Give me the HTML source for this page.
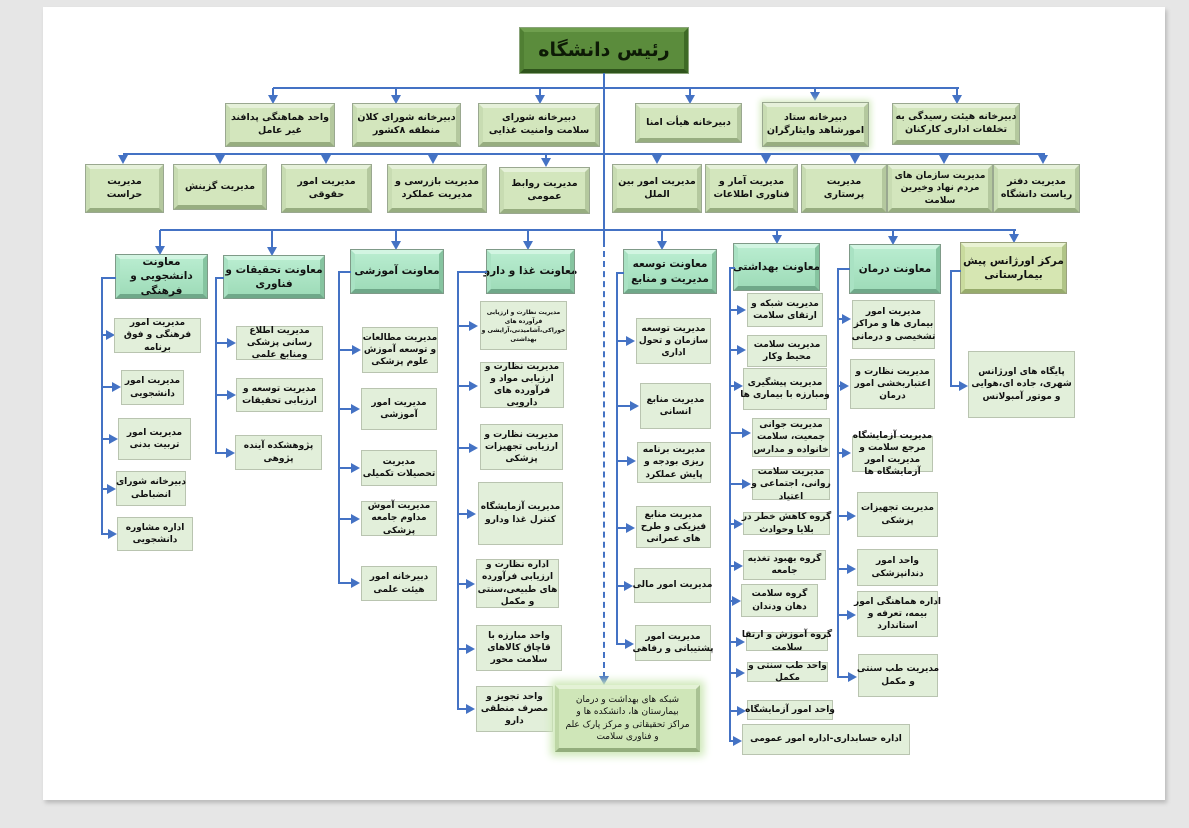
<!DOCTYPE html>
<html><head><meta charset="utf-8">
<style>
*{margin:0;padding:0;box-sizing:border-box}
body{width:1189px;height:828px;background:#e6e6e6;position:relative;overflow:hidden}
.pg{position:absolute;left:43px;top:7px;width:1122px;height:793px;background:#fff;box-shadow:2px 3px 4px #bbb}
.b{position:absolute;display:flex;align-items:center;justify-content:center;text-align:center;direction:rtl;font:bold 9px "DejaVu Sans",sans-serif;line-height:1.35;color:#111;overflow:visible;white-space:nowrap;letter-spacing:-0.3px}
.g{background:#d3e6bd;border:4px solid;border-color:#e6f1da #b4c89e #97ad80 #c8dcb2;outline:1px solid #9aa890;font-size:9.5px}
.t{background:linear-gradient(#b8eccf,#9fdcb9);border:4px solid;border-color:#d2f5e2 #86c4a0 #6fa889 #a9e2c3;outline:1px solid #7f9a88;font-size:10.5px}
.o{background:#d6e6b2;border:4px solid;border-color:#eaf3d4 #b0c487 #97ab6c #c9db9e;outline:1px solid #9aa27d;font-size:10.5px}
.l{background:#e2efda;border:1px solid #b9c4b0}
.h{position:absolute;height:2px;background:#4472c4}
.v{position:absolute;width:2px;background:#4472c4}
.ad{position:absolute;width:0;height:0;border-left:5px solid transparent;border-right:5px solid transparent;border-top:9px solid #4472c4}
.ar{position:absolute;width:0;height:0;border-top:5px solid transparent;border-bottom:5px solid transparent;border-left:9px solid #4472c4}
</style></head><body>
<div class="pg"></div>

<div class="b" style="left:520px;top:28px;width:168px;height:45px;background:#5b8c3c;border:4px solid;border-color:#6f9f4e #3e6a26 #2f541c #507f33;outline:1px solid #8aa47a;font-size:19px;color:#0d1a06">رئیس دانشگاه</div>

<div class="v" style="left:603px;top:73px;height:168px"></div>
<div style="position:absolute;left:603px;top:241px;height:437px;border-left:2px dashed #4472c4"></div>
<div class="ad" style="left:599px;top:676px"></div>

<div class="h" style="left:273px;top:87px;width:686px"></div>
<div class="v" style="left:272px;top:88px;height:8px"></div><div class="ad" style="left:268px;top:95px"></div>
<div class="v" style="left:395px;top:88px;height:8px"></div><div class="ad" style="left:391px;top:95px"></div>
<div class="v" style="left:539px;top:88px;height:8px"></div><div class="ad" style="left:535px;top:95px"></div>
<div class="v" style="left:689px;top:88px;height:8px"></div><div class="ad" style="left:685px;top:95px"></div>
<div class="v" style="left:814px;top:88px;height:5px"></div><div class="ad" style="left:810px;top:92px"></div>
<div class="v" style="left:956px;top:88px;height:8px"></div><div class="ad" style="left:952px;top:95px"></div>

<div class="b g" style="left:226px;top:104px;width:108px;height:42px">واحد هماهنگی پدافند<br>غیر عامل</div>
<div class="b g" style="left:353px;top:104px;width:107px;height:42px">دبیرخانه شورای کلان<br>منطقه ۸کشور</div>
<div class="b g" style="left:479px;top:104px;width:120px;height:42px">دبیرخانه شورای<br>سلامت وامنیت غذایی</div>
<div class="b g" style="left:636px;top:104px;width:105px;height:38px">دبیرخانه هیأت امنا</div>
<div class="b g" style="left:763px;top:103px;width:105px;height:43px;box-shadow:0 0 6px 3px #d7ecc4">دبیرخانه ستاد<br>امورشاهد وایثارگران</div>
<div class="b g" style="left:893px;top:104px;width:126px;height:40px">دبیرخانه هیئت رسیدگی به<br>تخلفات اداری کارکنان</div>

<div class="h" style="left:123px;top:153px;width:922px"></div>
<div class="ad" style="left:118px;top:155px"></div>
<div class="ad" style="left:215px;top:155px"></div>
<div class="ad" style="left:321px;top:155px"></div>
<div class="ad" style="left:428px;top:155px"></div>
<div class="v" style="left:545px;top:155px;height:4px"></div><div class="ad" style="left:541px;top:158px"></div>
<div class="ad" style="left:652px;top:155px"></div>
<div class="ad" style="left:761px;top:155px"></div>
<div class="ad" style="left:850px;top:155px"></div>
<div class="ad" style="left:939px;top:155px"></div>
<div class="ad" style="left:1038px;top:155px"></div>

<div class="b g" style="left:86px;top:165px;width:77px;height:47px">مدیریت<br>حراست</div>
<div class="b g" style="left:174px;top:165px;width:92px;height:44px">مدیریت گزینش</div>
<div class="b g" style="left:282px;top:165px;width:89px;height:47px">مدیریت امور<br>حقوقی</div>
<div class="b g" style="left:388px;top:165px;width:98px;height:47px">مدیریت بازرسی و<br>مدیریت عملکرد</div>
<div class="b g" style="left:500px;top:168px;width:89px;height:45px">مدیریت روابط<br>عمومی</div>
<div class="b g" style="left:613px;top:165px;width:88px;height:47px">مدیریت امور بین<br>الملل</div>
<div class="b g" style="left:706px;top:165px;width:91px;height:47px">مدیریت آمار و<br>فناوری اطلاعات</div>
<div class="b g" style="left:802px;top:165px;width:84px;height:47px">مدیریت<br>پرستاری</div>
<div class="b g" style="left:888px;top:165px;width:104px;height:47px;font-size:9px">مدیریت سازمان های<br>مردم نهاد وخیرین<br>سلامت</div>
<div class="b g" style="left:994px;top:165px;width:85px;height:47px">مدیریت دفتر<br>ریاست دانشگاه</div>

<div class="h" style="left:160px;top:229px;width:856px"></div>
<div class="v" style="left:159px;top:230px;height:17px"></div><div class="ad" style="left:155px;top:246px"></div>
<div class="v" style="left:271px;top:230px;height:18px"></div><div class="ad" style="left:267px;top:247px"></div>
<div class="v" style="left:395px;top:230px;height:12px"></div><div class="ad" style="left:391px;top:241px"></div>
<div class="v" style="left:527px;top:230px;height:12px"></div><div class="ad" style="left:523px;top:241px"></div>
<div class="v" style="left:661px;top:230px;height:12px"></div><div class="ad" style="left:657px;top:241px"></div>
<div class="v" style="left:776px;top:230px;height:6px"></div><div class="ad" style="left:772px;top:235px"></div>
<div class="v" style="left:892px;top:230px;height:7px"></div><div class="ad" style="left:888px;top:236px"></div>
<div class="v" style="left:1013px;top:230px;height:5px"></div><div class="ad" style="left:1009px;top:234px"></div>

<div class="b t" style="left:116px;top:255px;width:91px;height:43px">معاونت<br>دانشجویی و<br>فرهنگی</div>
<div class="b t" style="left:224px;top:256px;width:100px;height:42px">معاونت تحقیقات و<br>فناوری</div>
<div class="b t" style="left:351px;top:250px;width:92px;height:43px">معاونت آموزشی</div>
<div class="b t" style="left:487px;top:250px;width:87px;height:43px">معاونت غذا و دارو</div>
<div class="b t" style="left:624px;top:250px;width:92px;height:43px">معاونت توسعه<br>مدیریت و منابع</div>
<div class="b t" style="left:734px;top:244px;width:85px;height:46px">معاونت بهداشتی</div>
<div class="b t" style="left:850px;top:245px;width:90px;height:48px">معاونت درمان</div>
<div class="b o" style="left:961px;top:243px;width:105px;height:50px">مرکز اورژانس پیش<br>بیمارستانی</div>

<!-- col1 -->
<div class="v" style="left:101px;top:277px;height:258px"></div><div class="h" style="left:101px;top:277px;width:15px"></div>
<div class="h" style="left:101px;top:334px;width:5px"></div><div class="ar" style="left:106px;top:330px"></div>
<div class="h" style="left:101px;top:386px;width:12px"></div><div class="ar" style="left:112px;top:382px"></div>
<div class="h" style="left:101px;top:438px;width:9px"></div><div class="ar" style="left:109px;top:434px"></div>
<div class="h" style="left:101px;top:488px;width:7px"></div><div class="ar" style="left:107px;top:484px"></div>
<div class="h" style="left:101px;top:533px;width:8px"></div><div class="ar" style="left:108px;top:529px"></div>
<div class="b l" style="left:114px;top:318px;width:87px;height:35px">مدیریت امور<br>فرهنگی و فوق<br>برنامه</div>
<div class="b l" style="left:121px;top:370px;width:63px;height:35px">مدیریت امور<br>دانشجویی</div>
<div class="b l" style="left:118px;top:418px;width:73px;height:42px">مدیریت امور<br>تربیت بدنی</div>
<div class="b l" style="left:116px;top:471px;width:70px;height:35px">دبیرخانه شورای<br>انضباطی</div>
<div class="b l" style="left:117px;top:517px;width:76px;height:34px">اداره مشاوره<br>دانشجویی</div>

<!-- col2 -->
<div class="v" style="left:215px;top:277px;height:177px"></div><div class="h" style="left:215px;top:277px;width:9px"></div>
<div class="h" style="left:215px;top:342px;width:13px"></div><div class="ar" style="left:227px;top:338px"></div>
<div class="h" style="left:215px;top:394px;width:13px"></div><div class="ar" style="left:227px;top:390px"></div>
<div class="h" style="left:215px;top:452px;width:12px"></div><div class="ar" style="left:226px;top:448px"></div>
<div class="b l" style="left:236px;top:326px;width:87px;height:34px">مدیریت اطلاع<br>رسانی پزشکی<br>ومنابع علمی</div>
<div class="b l" style="left:236px;top:378px;width:87px;height:34px">مدیریت توسعه و<br>ارزیابی تحقیقات</div>
<div class="b l" style="left:235px;top:435px;width:87px;height:35px">پژوهشکده آینده<br>پژوهی</div>

<!-- col3 -->
<div class="v" style="left:338px;top:271px;height:313px"></div><div class="h" style="left:338px;top:271px;width:13px"></div>
<div class="h" style="left:338px;top:349px;width:15px"></div><div class="ar" style="left:352px;top:345px"></div>
<div class="h" style="left:338px;top:408px;width:14px"></div><div class="ar" style="left:351px;top:404px"></div>
<div class="h" style="left:338px;top:467px;width:14px"></div><div class="ar" style="left:351px;top:463px"></div>
<div class="h" style="left:338px;top:518px;width:14px"></div><div class="ar" style="left:351px;top:514px"></div>
<div class="h" style="left:338px;top:582px;width:14px"></div><div class="ar" style="left:351px;top:578px"></div>
<div class="b l" style="left:362px;top:327px;width:76px;height:46px">مدیریت مطالعات<br>و توسعه آموزش<br>علوم پزشکی</div>
<div class="b l" style="left:361px;top:388px;width:76px;height:42px">مدیریت امور<br>آموزشی</div>
<div class="b l" style="left:361px;top:450px;width:76px;height:36px">مدیریت<br>تحصیلات تکمیلی</div>
<div class="b l" style="left:361px;top:501px;width:76px;height:35px">مدیریت آموش<br>مداوم جامعه<br>پزشکی</div>
<div class="b l" style="left:361px;top:566px;width:76px;height:35px">دبیرخانه امور<br>هیئت علمی</div>

<!-- col4 -->
<div class="v" style="left:457px;top:271px;height:438px"></div><div class="h" style="left:457px;top:271px;width:30px"></div>
<div class="h" style="left:457px;top:325px;width:13px"></div><div class="ar" style="left:469px;top:321px"></div>
<div class="h" style="left:457px;top:385px;width:13px"></div><div class="ar" style="left:469px;top:381px"></div>
<div class="h" style="left:457px;top:447px;width:13px"></div><div class="ar" style="left:469px;top:443px"></div>
<div class="h" style="left:457px;top:513px;width:11px"></div><div class="ar" style="left:467px;top:509px"></div>
<div class="h" style="left:457px;top:583px;width:10px"></div><div class="ar" style="left:466px;top:579px"></div>
<div class="h" style="left:457px;top:648px;width:10px"></div><div class="ar" style="left:466px;top:644px"></div>
<div class="h" style="left:457px;top:708px;width:10px"></div><div class="ar" style="left:466px;top:704px"></div>
<div class="b l" style="left:480px;top:301px;width:87px;height:49px;font-size:6px;line-height:1.5">مدیریت نظارت و ارزیابی<br>فرآورده های<br>خوراکی،آشامیدنی،آرایشی و<br>بهداشتی</div>
<div class="b l" style="left:480px;top:362px;width:84px;height:46px">مدیریت نظارت و<br>ارزیابی مواد و<br>فرآورده های<br>دارویی</div>
<div class="b l" style="left:480px;top:424px;width:83px;height:46px">مدیریت نظارت و<br>ارزیابی تجهیزات<br>پزشکی</div>
<div class="b l" style="left:478px;top:482px;width:85px;height:63px">مدیریت آزمایشگاه<br>کنترل غذا ودارو</div>
<div class="b l" style="left:476px;top:559px;width:83px;height:49px">اداره نظارت و<br>ارزیابی فرآورده<br>های طبیعی،سنتی<br>و مکمل</div>
<div class="b l" style="left:476px;top:625px;width:86px;height:46px">واحد مبارزه با<br>قاچاق کالاهای<br>سلامت محور</div>
<div class="b l" style="left:476px;top:686px;width:77px;height:46px">واحد تجویز و<br>مصرف منطقی<br>دارو</div>

<div class="b" style="left:555px;top:685px;width:145px;height:67px;background:#cfe6b8;border:4px solid;border-color:#e4f2d6 #a9c293 #93ad7c #bed7a6;box-shadow:0 0 8px 4px #cfe9b9;font-weight:normal;font-size:9px">شبکه های بهداشت و درمان<br>بیمارستان ها، دانشکده ها و<br>مراکز تحقیقاتی و مرکز پارک علم<br>و فناوری سلامت</div>

<!-- col5 -->
<div class="v" style="left:616px;top:272px;height:372px"></div><div class="h" style="left:616px;top:272px;width:8px"></div>
<div class="h" style="left:616px;top:340px;width:11px"></div><div class="ar" style="left:626px;top:336px"></div>
<div class="h" style="left:616px;top:405px;width:15px"></div><div class="ar" style="left:630px;top:401px"></div>
<div class="h" style="left:616px;top:460px;width:12px"></div><div class="ar" style="left:627px;top:456px"></div>
<div class="h" style="left:616px;top:527px;width:11px"></div><div class="ar" style="left:626px;top:523px"></div>
<div class="h" style="left:616px;top:585px;width:9px"></div><div class="ar" style="left:624px;top:581px"></div>
<div class="h" style="left:616px;top:643px;width:10px"></div><div class="ar" style="left:625px;top:639px"></div>
<div class="b l" style="left:636px;top:318px;width:75px;height:46px">مدیریت توسعه<br>سازمان و تحول<br>اداری</div>
<div class="b l" style="left:640px;top:383px;width:71px;height:46px">مدیریت منابع<br>انسانی</div>
<div class="b l" style="left:637px;top:442px;width:74px;height:41px">مدیریت برنامه<br>ریزی بودجه و<br>پایش عملکرد</div>
<div class="b l" style="left:636px;top:506px;width:75px;height:42px">مدیریت منابع<br>فیزیکی و طرح<br>های عمرانی</div>
<div class="b l" style="left:634px;top:568px;width:77px;height:35px">مدیریت امور مالی</div>
<div class="b l" style="left:635px;top:625px;width:76px;height:36px">مدیریت امور<br>پشتیبانی و رفاهی</div>

<!-- col6 -->
<div class="v" style="left:729px;top:267px;height:474px"></div><div class="h" style="left:729px;top:267px;width:6px"></div>
<div class="h" style="left:729px;top:309px;width:9px"></div><div class="ar" style="left:737px;top:305px"></div>
<div class="h" style="left:729px;top:349px;width:9px"></div><div class="ar" style="left:737px;top:345px"></div>
<div class="h" style="left:729px;top:385px;width:6px"></div><div class="ar" style="left:734px;top:381px"></div>
<div class="h" style="left:729px;top:432px;width:14px"></div><div class="ar" style="left:742px;top:428px"></div>
<div class="h" style="left:729px;top:483px;width:14px"></div><div class="ar" style="left:742px;top:479px"></div>
<div class="h" style="left:729px;top:523px;width:6px"></div><div class="ar" style="left:734px;top:519px"></div>
<div class="h" style="left:729px;top:565px;width:6px"></div><div class="ar" style="left:734px;top:561px"></div>
<div class="h" style="left:729px;top:600px;width:4px"></div><div class="ar" style="left:732px;top:596px"></div>
<div class="h" style="left:729px;top:641px;width:8px"></div><div class="ar" style="left:736px;top:637px"></div>
<div class="h" style="left:729px;top:672px;width:8px"></div><div class="ar" style="left:736px;top:668px"></div>
<div class="h" style="left:729px;top:710px;width:9px"></div><div class="ar" style="left:737px;top:706px"></div>
<div class="h" style="left:729px;top:740px;width:5px"></div><div class="ar" style="left:733px;top:736px"></div>
<div class="b l" style="left:747px;top:293px;width:76px;height:34px">مدیریت شبکه و<br>ارتقای سلامت</div>
<div class="b l" style="left:747px;top:335px;width:80px;height:32px">مدیریت سلامت<br>محیط وکار</div>
<div class="b l" style="left:743px;top:368px;width:84px;height:42px">مدیریت پیشگیری<br>ومبارزه با بیماری ها</div>
<div class="b l" style="left:752px;top:418px;width:78px;height:39px">مدیریت جوانی<br>جمعیت، سلامت<br>خانواده و مدارس</div>
<div class="b l" style="left:752px;top:469px;width:78px;height:31px">مدیریت سلامت<br>روانی، اجتماعی و<br>اعتیاد</div>
<div class="b l" style="left:743px;top:512px;width:87px;height:23px">گروه کاهش خطر در<br>بلایا وحوادث</div>
<div class="b l" style="left:743px;top:550px;width:83px;height:30px">گروه بهبود تغذیه<br>جامعه</div>
<div class="b l" style="left:741px;top:584px;width:77px;height:33px">گروه سلامت<br>دهان ودندان</div>
<div class="b l" style="left:746px;top:632px;width:82px;height:19px">گروه آموزش و ارتقا<br>سلامت</div>
<div class="b l" style="left:747px;top:662px;width:81px;height:20px">واحد طب سنتی و<br>مکمل</div>
<div class="b l" style="left:747px;top:700px;width:86px;height:20px">واحد امور آزمایشگاه</div>
<div class="b l" style="left:742px;top:724px;width:168px;height:31px">اداره حسابداری-اداره امور عمومی</div>

<!-- col7 -->
<div class="v" style="left:837px;top:268px;height:409px"></div><div class="h" style="left:837px;top:268px;width:13px"></div>
<div class="h" style="left:837px;top:318px;width:6px"></div><div class="ar" style="left:842px;top:314px"></div>
<div class="h" style="left:837px;top:385px;width:4px"></div><div class="ar" style="left:840px;top:381px"></div>
<div class="h" style="left:837px;top:452px;width:6px"></div><div class="ar" style="left:842px;top:448px"></div>
<div class="h" style="left:837px;top:515px;width:11px"></div><div class="ar" style="left:847px;top:511px"></div>
<div class="h" style="left:837px;top:568px;width:11px"></div><div class="ar" style="left:847px;top:564px"></div>
<div class="h" style="left:837px;top:614px;width:11px"></div><div class="ar" style="left:847px;top:610px"></div>
<div class="h" style="left:837px;top:676px;width:12px"></div><div class="ar" style="left:848px;top:672px"></div>
<div class="b l" style="left:852px;top:300px;width:83px;height:49px">مدیریت امور<br>بیماری ها و مراکز<br>تشخیصی و درمانی</div>
<div class="b l" style="left:850px;top:359px;width:85px;height:50px">مدیریت نظارت و<br>اعتباربخشی امور<br>درمان</div>
<div class="b l" style="left:852px;top:436px;width:81px;height:36px">مدیریت آزمایشگاه<br>مرجع سلامت و<br>مدیریت امور<br>آزمایشگاه ها</div>
<div class="b l" style="left:857px;top:492px;width:81px;height:45px">مدیریت تجهیزات<br>پزشکی</div>
<div class="b l" style="left:857px;top:549px;width:81px;height:37px">واحد امور<br>دندانپزشکی</div>
<div class="b l" style="left:857px;top:591px;width:81px;height:46px">اداره هماهنگی امور<br>بیمه، تعرفه و<br>استاندارد</div>
<div class="b l" style="left:858px;top:654px;width:80px;height:43px">مدیریت طب سنتی<br>و مکمل</div>

<!-- col8 -->
<div class="v" style="left:950px;top:270px;height:116px"></div><div class="h" style="left:950px;top:270px;width:11px"></div>
<div class="h" style="left:950px;top:385px;width:10px"></div><div class="ar" style="left:959px;top:381px"></div>
<div class="b l" style="left:968px;top:351px;width:107px;height:67px">پایگاه های اورژانس<br>شهری، جاده ای،هوایی<br>و موتور آمبولانس</div>

</body></html>
